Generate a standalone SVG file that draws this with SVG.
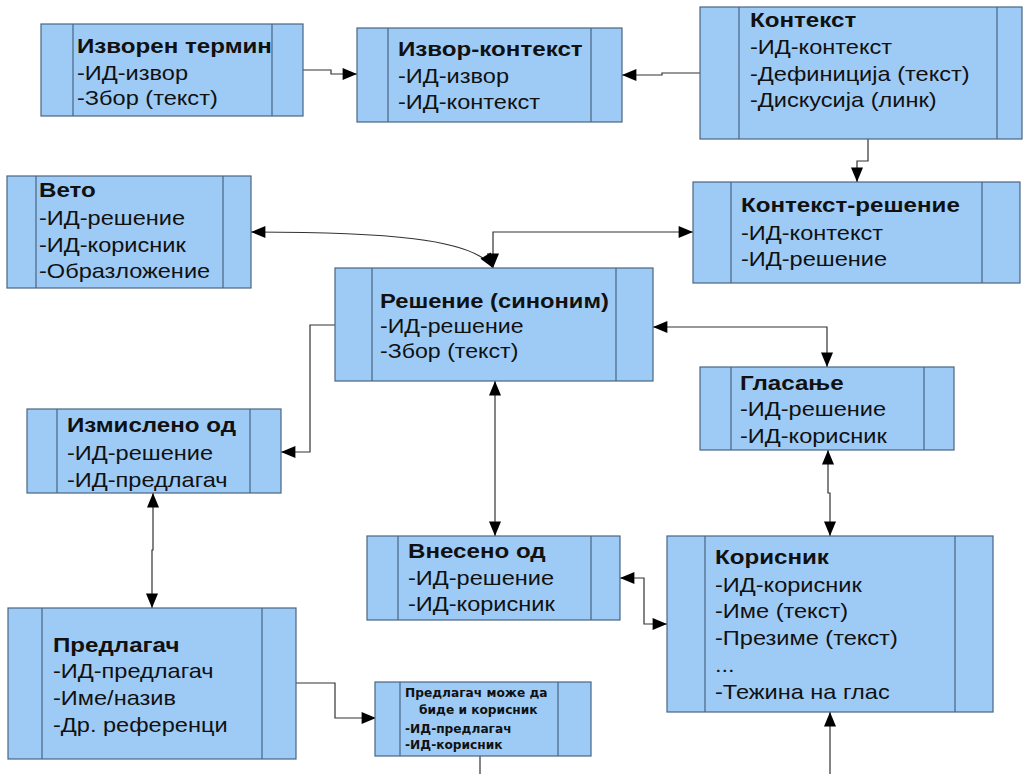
<svg xmlns="http://www.w3.org/2000/svg" width="1025" height="774" viewBox="0 0 1025 774">
<style>
.box{fill:#9ecbf6;stroke:#4a6580;stroke-width:1.2}
.div{stroke:#4a6580;stroke-width:1.2;fill:none}
.t{font-family:"Liberation Sans",Arial,sans-serif;font-weight:bold;font-size:21px;fill:#111}
.l{font-family:"Liberation Sans",Arial,sans-serif;font-size:20.5px;fill:#111}
.s{font-family:"DejaVu Sans Condensed","DejaVu Sans",sans-serif;font-weight:bold;font-size:12px;fill:#111}
.c{fill:none;stroke:#333;stroke-width:1.2}
</style>
<defs>
<marker id="ah" viewBox="0 0 12 10" refX="12" refY="5" markerWidth="16" markerHeight="12" markerUnits="userSpaceOnUse" orient="auto-start-reverse">
<path d="M0 0 L12 5 L0 10 Z" fill="#000"/>
</marker>
</defs>
<rect width="1025" height="774" fill="#fff"/>
<g id="connectors">
<path class="c" d="M303 70 H331 V74 H357" marker-end="url(#ah)"/>
<path class="c" d="M700 73 H662 V75 H622" marker-end="url(#ah)"/>
<path class="c" d="M868 139 V161 H857 V182" marker-end="url(#ah)"/>
<path class="c" d="M251 232 C380 232 475 238 493 268" marker-start="url(#ah)" marker-end="url(#ah)"/>
<path class="c" d="M693 232 H493 V268" marker-start="url(#ah)" marker-end="url(#ah)"/>
<path class="c" d="M335 325 H310 V452 H281" marker-end="url(#ah)"/>
<path class="c" d="M653 327 H827 V367" marker-start="url(#ah)" marker-end="url(#ah)"/>
<path class="c" d="M495 381 V536" marker-start="url(#ah)" marker-end="url(#ah)"/>
<path class="c" d="M153 493 V550 H152 V608" marker-start="url(#ah)" marker-end="url(#ah)"/>
<path class="c" d="M828 450 V493 H830 V536" marker-start="url(#ah)" marker-end="url(#ah)"/>
<path class="c" d="M620 578 H644 V624 H667" marker-start="url(#ah)" marker-end="url(#ah)"/>
<path class="c" d="M296 683 H335 V718 H376" marker-end="url(#ah)"/>
<path class="c" d="M480 756 V774"/>
<path class="c" d="M830 774 V712" marker-end="url(#ah)"/>
</g>
<g id="izvoren-termin">
<rect class="box" x="41" y="24" width="262" height="92"/>
<path class="div" d="M73 24 V116 M272 24 V116"/>
<g transform="translate(77 0) scale(1.15 1)">
<text class="t" x="0" y="53">Изворен термин</text>
<text class="l" x="0" y="80">-ИД-извор</text>
<text class="l" x="0" y="105">-Збор (текст)</text>
</g>
</g>
<g id="izvor-kontekst">
<rect class="box" x="357" y="28" width="265" height="94"/>
<path class="div" d="M388 28 V122 M591 28 V122"/>
<g transform="translate(398 0) scale(1.15 1)">
<text class="t" x="0" y="56">Извор-контекст</text>
<text class="l" x="0" y="83">-ИД-извор</text>
<text class="l" x="0" y="109">-ИД-контекст</text>
</g>
</g>
<g id="kontekst">
<rect class="box" x="700" y="7" width="322" height="132"/>
<path class="div" d="M739 7 V139 M997 7 V139"/>
<g transform="translate(750 0) scale(1.15 1)">
<text class="t" x="0" y="27">Контекст</text>
<text class="l" x="0" y="54">-ИД-контекст</text>
<text class="l" x="0" y="81">-Дефиниција (текст)</text>
<text class="l" x="0" y="107">-Дискусија (линк)</text>
</g>
</g>
<g id="kontekst-reshenie">
<rect class="box" x="693" y="182" width="327" height="101"/>
<path class="div" d="M731 182 V283 M982 182 V283"/>
<g transform="translate(741 0) scale(1.15 1)">
<text class="t" x="0" y="212">Контекст-решение</text>
<text class="l" x="0" y="240">-ИД-контекст</text>
<text class="l" x="0" y="266">-ИД-решение</text>
</g>
</g>
<g id="veto">
<rect class="box" x="7" y="176" width="244" height="112"/>
<path class="div" d="M36 176 V288 M223 176 V288"/>
<g transform="translate(39 0) scale(1.15 1)">
<text class="t" x="0" y="197">Вето</text>
<text class="l" x="0" y="225">-ИД-решение</text>
<text class="l" x="0" y="252">-ИД-корисник</text>
<text class="l" x="0" y="278">-Образложение</text>
</g>
</g>
<g id="reshenie">
<rect class="box" x="335" y="268" width="318" height="113"/>
<path class="div" d="M372 268 V381 M616 268 V381"/>
<g transform="translate(380 0) scale(1.13 1)">
<text class="t" x="0" y="308">Решение (синоним)</text>
<text class="l" x="0" y="333">-ИД-решение</text>
<text class="l" x="0" y="358">-Збор (текст)</text>
</g>
</g>
<g id="glasanje">
<rect class="box" x="700" y="367" width="254" height="83"/>
<path class="div" d="M731 367 V450 M924 367 V450"/>
<g transform="translate(740 0) scale(1.15 1)">
<text class="t" x="0" y="390">Гласање</text>
<text class="l" x="0" y="416">-ИД-решение</text>
<text class="l" x="0" y="443">-ИД-корисник</text>
</g>
</g>
<g id="izmisleno-od">
<rect class="box" x="27" y="409" width="254" height="84"/>
<path class="div" d="M57 409 V493 M250 409 V493"/>
<g transform="translate(67 0) scale(1.15 1)">
<text class="t" x="0" y="432">Измислено од</text>
<text class="l" x="0" y="460">-ИД-решение</text>
<text class="l" x="0" y="487">-ИД-предлагач</text>
</g>
</g>
<g id="vneseno-od">
<rect class="box" x="367" y="536" width="253" height="84"/>
<path class="div" d="M398 536 V620 M591 536 V620"/>
<g transform="translate(408 0) scale(1.15 1)">
<text class="t" x="0" y="558">Внесено од</text>
<text class="l" x="0" y="585">-ИД-решение</text>
<text class="l" x="0" y="611">-ИД-корисник</text>
</g>
</g>
<g id="korisnik">
<rect class="box" x="667" y="536" width="326" height="176"/>
<path class="div" d="M705 536 V712 M955 536 V712"/>
<g transform="translate(715 0) scale(1.15 1)">
<text class="t" x="0" y="564">Корисник</text>
<text class="l" x="0" y="592">-ИД-корисник</text>
<text class="l" x="0" y="618">-Име (текст)</text>
<text class="l" x="0" y="645">-Презиме (текст)</text>
<text class="l" x="0" y="672">...</text>
<text class="l" x="0" y="699">-Тежина на глас</text>
</g>
</g>
<g id="predlagach">
<rect class="box" x="8" y="608" width="288" height="151"/>
<path class="div" d="M42 608 V759 M262 608 V759"/>
<g transform="translate(53 0) scale(1.15 1)">
<text class="t" x="0" y="652">Предлагач</text>
<text class="l" x="0" y="678">-ИД-предлагач</text>
<text class="l" x="0" y="705">-Име/назив</text>
<text class="l" x="0" y="732">-Др. референци</text>
</g>
</g>
<g id="predlagach-korisnik">
<rect class="box" x="375" y="682" width="216" height="74"/>
<path class="div" d="M400 682 V756 M558 682 V756"/>
<g transform="translate(405 0) scale(1.13 1)">
<text class="s" x="0" y="697">Предлагач може да</text>
<text class="s" x="12.4" y="714">биде и корисник</text>
<text class="s" x="0" y="733">-ИД-предлагач</text>
<text class="s" x="0" y="749">-ИД-корисник</text>
</g>
</g>
</svg>
